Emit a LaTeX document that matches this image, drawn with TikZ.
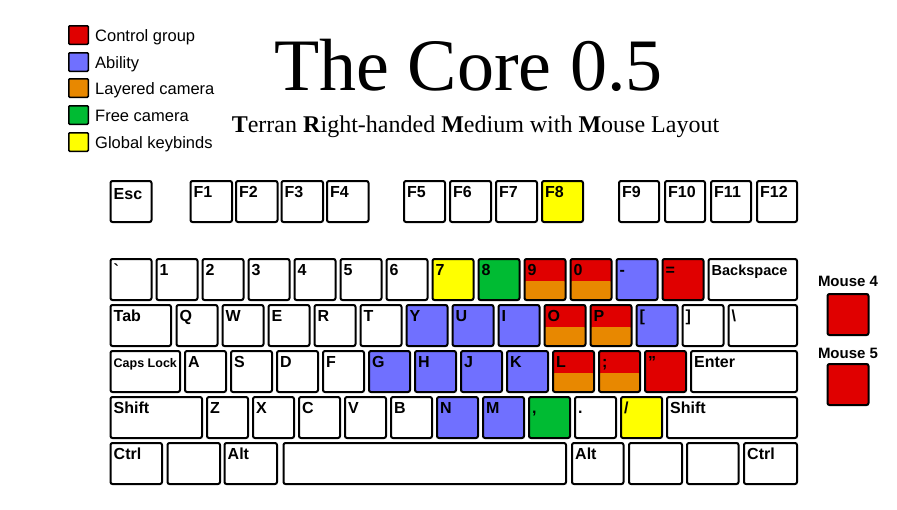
\documentclass[tikz,border=0pt]{standalone}
\usepackage{fontspec}
\setmainfont{Liberation Serif}
\newfontfamily\sansf{Liberation Sans}
\usetikzlibrary{calc}
\definecolor{cred}{HTML}{E00000}
\definecolor{cblue}{HTML}{7070FF}
\definecolor{corange}{HTML}{E88800}
\definecolor{cgreen}{HTML}{00BB33}
\definecolor{cyellow}{HTML}{FFFF00}
\tikzset{
  keybox/.style={draw=black, line width=2pt, rounded corners=2pt, inner sep=0pt, outer sep=0pt, anchor=north west, minimum height=41pt},
  keylbl/.style={anchor=base west, xshift=3pt, yshift=-16pt, inner sep=0pt, font=\sansf\bfseries\fontsize{16}{19}\selectfont},
  splitkey/.style={fill=cred, path picture={\fill[corange] ([yshift=-1.5pt]path picture bounding box.west) rectangle (path picture bounding box.south east);}},
  legbox/.style={draw=black, line width=1.5pt, rounded corners=1pt, minimum width=19.5pt, minimum height=18.5pt, inner sep=0pt},
  legtxt/.style={anchor=base west, inner sep=0pt, font=\sansf\fontsize{16.5}{19}\selectfont},
  mbox/.style={draw=black, line width=2pt, rounded corners=2pt, fill=cred, minimum width=41pt, minimum height=41pt, inner sep=0pt},
  mtxt/.style={anchor=base, inner sep=0pt, font=\sansf\bfseries\fontsize{15}{18}\selectfont},
}
\newcommand\kk[6][fill=white]{\node[keybox, #1, minimum width=#5pt-2pt, label={[keylbl]north west:{#6}}] (#2) at (#3+1,#4+1) {};}
\begin{document}
\begin{tikzpicture}[x=1pt,y=-1pt]
\useasboundingbox (0,0) rectangle (897,509);
\fill[white] (0,0) rectangle (897,509);
% legend
\node[legbox, fill=cred] (lg1) at (78.5,35) {};
\node[legbox, fill=cblue] (lg2) at (78.5,62) {};
\node[legbox, fill=corange] (lg3) at (78.5,88) {};
\node[legbox, fill=cgreen] (lg4) at (78.5,115) {};
\node[legbox, fill=cyellow] (lg5) at (78.5,142) {};
\node[legtxt] (lt1) at (95,41) {Control group};
\node[legtxt] (lt2) at (95,68) {Ability};
\node[legtxt] (lt3) at (95,94) {Layered camera};
\node[legtxt] (lt4) at (95,121) {Free camera};
\node[legtxt] (lt5) at (95,148) {Global keybinds};
% title
\node[anchor=base, inner sep=0pt, font=\fontsize{74}{80}\selectfont] (title) at (468.5,90) {The Core 0.5};
\node[anchor=base, inner sep=0pt, font=\fontsize{24}{28}\selectfont] (subtitle) at (475.5,132) {\textbf{T}erran \textbf{R}ight-handed \textbf{M}edium with \textbf{M}ouse Layout};
% function row
\kk{kesc}{109.5}{180}{43}{\raisebox{-2pt}{Esc}}
\kk{kf1}{189.5}{180}{43.5}{F1}
\kk{kf2}{235}{180}{43.5}{F2}
\kk{kf3}{280.5}{180}{43.5}{F3}
\kk{kf4}{326}{180}{43.5}{F4}
\kk{kf5}{403}{180}{43}{F5}
\kk{kf6}{449}{180}{43}{F6}
\kk{kf7}{495}{180}{43}{F7}
\kk[fill=cyellow]{kf8}{541}{180}{43}{F8}
\kk{kf9}{618}{180}{42}{F9}
\kk{kf10}{664}{180}{42}{F10}
\kk{kf11}{710}{180}{42}{F11}
\kk{kf12}{756}{180}{42}{F12}
% number row
\kk{kgrave}{109.5}{258}{43}{\textasciigrave}
\kk{k1}{155.5}{258}{43}{1}
\kk{k2}{201.5}{258}{43}{2}
\kk{k3}{247.5}{258}{43}{3}
\kk{k4}{293.5}{258}{43}{4}
\kk{k5}{339.5}{258}{43}{5}
\kk{k6}{385.5}{258}{43}{6}
\kk[fill=cyellow]{k7}{431.5}{258}{43}{7}
\kk[fill=cgreen]{k8}{477.5}{258}{43}{8}
\kk[splitkey]{k9}{523.5}{258}{43}{9}
\kk[splitkey]{k0}{569.5}{258}{43}{0}
\kk[fill=cblue]{kminus}{615.5}{258}{43}{-}
\kk[fill=cred]{kequal}{661.5}{258}{43}{=}
\kk{kback}{707.5}{258}{90.5}{{\fontsize{14.5}{18}\selectfont Backspace}}
% tab row
\kk{ktab}{109.5}{304}{62.5}{Tab}
\kk{kq}{175.5}{304}{43}{Q}
\kk{kw}{221.5}{304}{43}{W}
\kk{ke}{267.5}{304}{43}{E}
\kk{kr}{313.5}{304}{43}{R}
\kk{kt}{359.5}{304}{43}{T}
\kk[fill=cblue]{ky}{405.5}{304}{43}{Y}
\kk[fill=cblue]{ku}{451.5}{304}{43}{U}
\kk[fill=cblue]{ki}{497.5}{304}{43}{I}
\kk[splitkey]{ko}{543.5}{304}{43}{O}
\kk[splitkey]{kp}{589.5}{304}{43}{P}
\kk[fill=cblue]{klbr}{635.5}{304}{43}{[}
\kk{krbr}{681.5}{304}{43}{]}
\kk{kbslash}{727.5}{304}{70.5}{\textbackslash}
% caps row
\kk{kcaps}{109.5}{350}{71.5}{{\fontsize{12.5}{15}\selectfont Caps Lock}}
\kk{ka}{184}{350}{43}{A}
\kk{ks}{230}{350}{43}{S}
\kk{kd}{276}{350}{43}{D}
\kk{kf}{322}{350}{43}{F}
\kk[fill=cblue]{kg}{368}{350}{43}{G}
\kk[fill=cblue]{kh}{414}{350}{43}{H}
\kk[fill=cblue]{kj}{460}{350}{43}{J}
\kk[fill=cblue]{kk}{506}{350}{43}{K}
\kk[splitkey]{kl}{552}{350}{43}{L}
\kk[splitkey]{ksemi}{598}{350}{43}{;}
\kk[fill=cred]{kquote}{644}{350}{43}{”}
\kk{kenter}{690}{350}{108}{Enter}
% shift row
\kk{klshift}{109.5}{396}{93.5}{Shift}
\kk{kz}{206}{396}{43}{Z}
\kk{kx}{252}{396}{43}{X}
\kk{kc}{298}{396}{43}{C}
\kk{kv}{344}{396}{43}{V}
\kk{kb}{390}{396}{43}{B}
\kk[fill=cblue]{kn}{436}{396}{43}{N}
\kk[fill=cblue]{km}{482}{396}{43}{M}
\kk[fill=cgreen]{kcomma}{528}{396}{43}{,}
\kk{kdot}{574}{396}{43}{.}
\kk[fill=cyellow]{kslash}{620}{396}{43}{/}
\kk{krshift}{666}{396}{132}{Shift}
% bottom row
\kk{klctrl}{109.5}{442}{53.5}{Ctrl}
\kk{kblank1}{166.5}{442}{54.5}{}
\kk{klalt}{223.5}{442}{54.5}{Alt}
\kk{kspace}{282.5}{442}{284.5}{}
\kk{kralt}{571}{442}{53.5}{Alt}
\kk{kblank2}{628}{442}{55}{}
\kk{kblank3}{686}{442}{53.5}{}
\kk{krctrl}{743}{442}{55}{Ctrl}
% mouse
\node[mtxt] (m4t) at (848,286) {Mouse 4};
\node[mbox] (m4) at (848,314.5) {};
\node[mtxt] (m5t) at (848,358) {Mouse 5};
\node[mbox] (m5) at (848,384.5) {};
\end{tikzpicture}
\end{document}
